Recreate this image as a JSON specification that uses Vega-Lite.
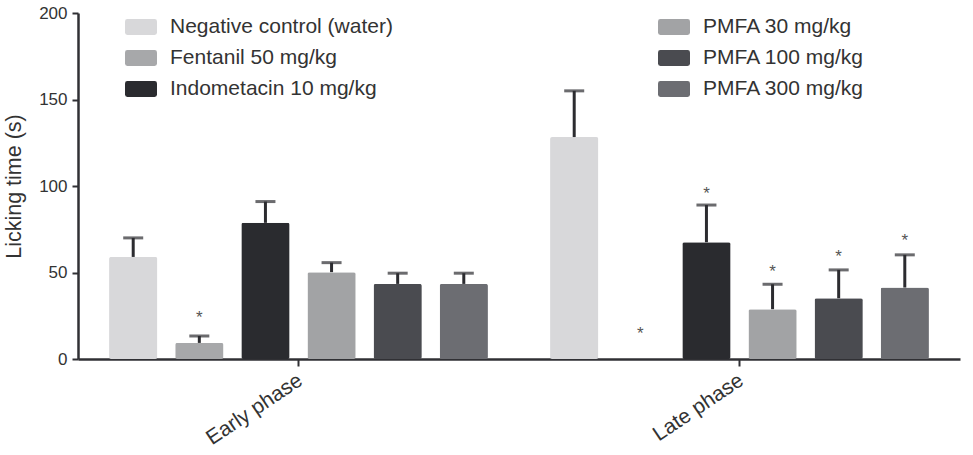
{
  "$schema": "https://vega.github.io/schema/vega-lite/v6.json",
  "autosize": {"type": "none"},
  "padding": {"left": 78, "top": 13, "right": 13, "bottom": 96},
  "width": 882,
  "height": 346,
  "background": "white",
  "config": {
    "font": "Liberation Sans",
    "view": {"stroke": null},
    "axis": {"labelColor": "#333333", "titleColor": "#333333", "domainColor": "#303034", "tickColor": "#303034", "grid": false}
  },
  "data": {
    "values": [
      {"phase": "Early phase", "treatment": "Negative control (water)", "mean": 59, "upper": 70, "star": null},
      {"phase": "Early phase", "treatment": "Fentanil 50 mg/kg", "mean": 9.3, "upper": 13.3, "star": 26},
      {"phase": "Early phase", "treatment": "Indometacin 10 mg/kg", "mean": 78.7, "upper": 91, "star": null},
      {"phase": "Early phase", "treatment": "PMFA 30 mg/kg", "mean": 50.2, "upper": 55.7, "star": null},
      {"phase": "Early phase", "treatment": "PMFA 100 mg/kg", "mean": 43.4, "upper": 49.6, "star": null},
      {"phase": "Early phase", "treatment": "PMFA 300 mg/kg", "mean": 43.4, "upper": 49.6, "star": null},
      {"phase": "Late phase", "treatment": "Negative control (water)", "mean": 128.3, "upper": 155, "star": null},
      {"phase": "Late phase", "treatment": "Fentanil 50 mg/kg", "mean": 0, "upper": 0, "star": 16.8},
      {"phase": "Late phase", "treatment": "Indometacin 10 mg/kg", "mean": 67.5, "upper": 89, "star": 97.8},
      {"phase": "Late phase", "treatment": "PMFA 30 mg/kg", "mean": 28.8, "upper": 43.2, "star": 52.5},
      {"phase": "Late phase", "treatment": "PMFA 100 mg/kg", "mean": 35.1, "upper": 51.5, "star": 61.2},
      {"phase": "Late phase", "treatment": "PMFA 300 mg/kg", "mean": 41.3, "upper": 60.2, "star": 70.4}
    ]
  },
  "encoding": {
    "x": {
      "field": "phase",
      "type": "nominal",
      "title": null,
      "scale": {"paddingInner": 0, "paddingOuter": 0},
      "axis": {
        "labelAngle": -34,
        "labelFontSize": 21,
        "labelPadding": 3,
        "labelOffset": -4,
        "domainWidth": 2.5,
        "tickWidth": 2,
        "tickSize": 7
      }
    },
    "xOffset": {
      "field": "treatment",
      "type": "nominal",
      "sort": ["Negative control (water)", "Fentanil 50 mg/kg", "Indometacin 10 mg/kg", "PMFA 30 mg/kg", "PMFA 100 mg/kg", "PMFA 300 mg/kg"],
      "scale": {"paddingInner": 0.27, "paddingOuter": 0.47}
    }
  },
  "layer": [
    {
      "mark": {"type": "bar", "cornerRadius": 2},
      "encoding": {
        "y": {
          "field": "mean",
          "type": "quantitative",
          "title": "Licking time (s)",
          "scale": {"domain": [0, 200], "nice": false},
          "axis": {
            "values": [0, 50, 100, 150, 200],
            "labelFontSize": 17,
            "labelPadding": 5,
            "titleFontSize": 21.5,
            "titleFontWeight": "normal",
            "titlePadding": 13,
            "domainWidth": 2.5,
            "tickWidth": 2,
            "tickSize": 6
          }
        },
        "color": {
          "field": "treatment",
          "type": "nominal",
          "scale": {
            "domain": ["Negative control (water)", "Fentanil 50 mg/kg", "Indometacin 10 mg/kg", "PMFA 30 mg/kg", "PMFA 100 mg/kg", "PMFA 300 mg/kg"],
            "range": ["#d8d8da", "#a7a8aa", "#2a2b2f", "#a2a3a5", "#4a4b50", "#6c6d72"]
          },
          "legend": {
            "title": null,
            "orient": "none",
            "legendX": 47,
            "legendY": -2,
            "columns": 2,
            "columnPadding": 265,
            "rowPadding": 5,
            "symbolType": "M-0.85,-0.5H0.85Q1,-0.5 1,-0.35V0.35Q1,0.5 0.85,0.5H-0.85Q-1,0.5 -1,0.35V-0.35Q-1,-0.5 -0.85,-0.5Z",
            "symbolSize": 1024,
            "symbolStrokeWidth": 0,
            "symbolOpacity": 1,
            "labelFontSize": 21,
            "labelColor": "#333333",
            "labelOffset": 13,
            "labelLimit": 400,
            "padding": 0
          }
        }
      }
    },
    {
      "mark": {"type": "rule", "color": "#2c2c30", "strokeWidth": 3},
      "transform": [{"filter": "datum.upper > datum.mean"}],
      "encoding": {
        "y": {"field": "mean", "type": "quantitative"},
        "y2": {"field": "upper"}
      }
    },
    {
      "mark": {"type": "tick", "color": "#2c2c30", "thickness": 3, "size": 20, "orient": "horizontal"},
      "transform": [{"filter": "datum.upper > datum.mean"}],
      "encoding": {
        "y": {"field": "upper", "type": "quantitative"}
      }
    },
    {
      "mark": {"type": "text", "text": "*", "fontSize": 17, "color": "#555555", "baseline": "middle", "dy": 4},
      "transform": [{"filter": "datum.star != null"}],
      "encoding": {
        "y": {"field": "star", "type": "quantitative"}
      }
    }
  ]
}
